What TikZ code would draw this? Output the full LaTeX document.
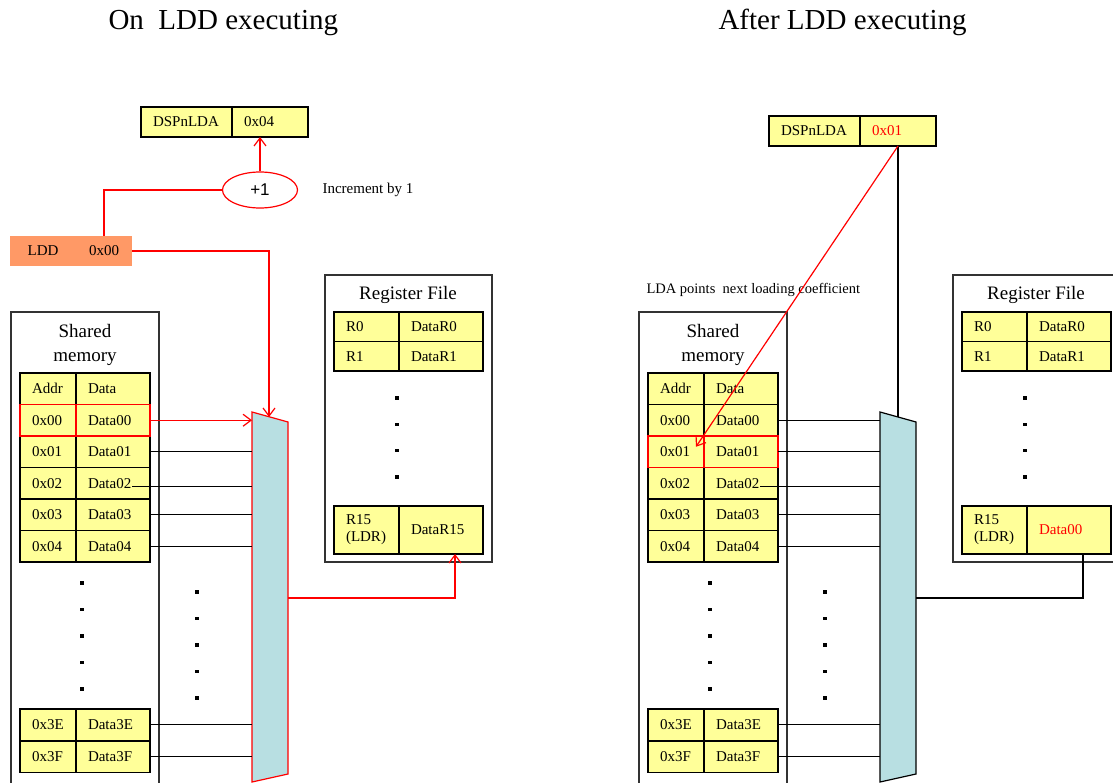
\documentclass[tikz,border=0pt]{standalone}
\usepackage{fontspec}
\setmainfont{Liberation Serif}
\newfontfamily\sansplus{Liberation Sans}
\usetikzlibrary{arrows.meta,shapes.geometric}

\definecolor{celda}{HTML}{FFFF99}
\definecolor{naranja}{HTML}{FF9966}
\definecolor{muxcol}{HTML}{B8DFE2}

\tikzset{
  cell/.style={draw=black,line width=1.8pt,fill=celda,anchor=north west,outer sep=0pt,
    inner xsep=12pt,inner ysep=0pt,align=left,font=\fontsize{15}{17}\selectfont},
  addrcell/.style={cell,minimum width=56pt,text width=32pt,minimum height=31.5pt},
  datacell/.style={cell,minimum width=74pt,text width=50pt,minimum height=31.5pt},
  regcell/.style={cell,minimum width=65pt,text width=41pt,minimum height=#1},
  regdata/.style={cell,minimum width=84pt,text width=60pt,minimum height=#1},
  namecell/.style={cell,minimum width=91pt,text width=67pt,minimum height=30pt},
  valcell/.style={cell,minimum width=76pt,text width=52pt,minimum height=30pt},
  lddcell/.style={fill=naranja,anchor=north west,outer sep=0pt,minimum height=30pt,
    font=\fontsize{15}{17}\selectfont},
  outerbox/.style={draw=black!80,line width=1.2pt,anchor=north west,outer sep=0pt},
  boxlabel/.style={font=\fontsize{19}{24}\selectfont,align=center},
  note/.style={anchor=base west,font=\fontsize{15}{17}\selectfont},
  wire/.style={line width=1.2pt},
  arrowhd/.style={-{Straight Barb[length=8pt,width=12pt]}},
  mux/.style={fill=muxcol,line width=1.2pt},
}

\begin{document}
\begin{tikzpicture}[x=1pt,y=-1pt]
  \path[use as bounding box,fill=white] (0,0) rectangle (1113,783);
  % titulos
  \node[anchor=base west,font=\fontsize{29}{34}\selectfont] (t-on) at (105,30) {On\ \ LDD executing};
  \node[anchor=base west,font=\fontsize{29}{34}\selectfont] (t-after) at (715,30) {After LDD executing};
  % lo que se repite en los dos paneles
  \foreach \p/\dx/\mc/\hl in {a/0/red/0,b/628/black/1}{
    % memoria compartida
    \node[outerbox,minimum width=148pt,minimum height=480pt] (\p-mem) at (11+\dx,312) {};
    \node[boxlabel] (\p-memlbl) at (85+\dx,345) {Shared\\memory};
    \node[addrcell] (\p-ah) at (20+\dx,373) {Addr};
    \node[datacell] (\p-dh) at (\p-ah.north east) {Data};
    \foreach \i/\v/\y in {0/00/404.5,1/01/436,2/02/467.5,3/03/499,4/04/530.5,E/3E/709,F/3F/741}{
      \node[addrcell] (\p-a\i) at (20+\dx,\y) {0x\v};
      \node[datacell] (\p-d\i) at (\p-a\i.north east) {Data\v};
    }
    \draw[red,line width=1.8pt] (\p-a\hl.north west) rectangle (\p-a\hl.south east)
      (\p-d\hl.north west) rectangle (\p-d\hl.south east);
    \foreach \k in {0,...,4}{
      \fill (82+\dx,583+26.5*\k) +(-1.6,-1.6) rectangle +(1.6,1.6);
      \fill (197+\dx,592+26.5*\k) +(-1.6,-1.6) rectangle +(1.6,1.6);
    }
    % multiplexor
    \coordinate (\p-mtl) at (252+\dx,412);
    \coordinate (\p-mtr) at (288+\dx,422);
    \coordinate (\p-mbr) at (288+\dx,774);
    \coordinate (\p-mbl) at (252+\dx,782);
    \coordinate (\p-mtop) at (269+\dx,417);
    \coordinate (\p-mout) at (288+\dx,598);
    \draw[mux,draw=\mc] (\p-mtl) -- (\p-mtr) -- (\p-mbr) -- (\p-mbl) -- cycle;
    \foreach \i in {1,3,4,E,F} \draw[wire] (\p-d\i.east) -- (\p-d\i.east -| \p-mtl);
    \coordinate (\p-q2) at ([xshift=56pt,yshift=-3pt]\p-d2.west);
    \draw[wire] (\p-q2) -- (\p-q2 -| \p-mtl);
    % banco de registros
    \node[outerbox,minimum width=167pt,minimum height=287pt] (\p-rf) at (325+\dx,275) {};
    \node[boxlabel,anchor=base] (\p-rflbl) at (408+\dx,300) {Register File};
    \node[regcell=29.5pt] (\p-r0) at (334+\dx,312) {R0};
    \node[regdata=29.5pt] (\p-v0) at (\p-r0.north east) {DataR0};
    \node[regcell=29.5pt] (\p-r1) at (334+\dx,341.5) {R1};
    \node[regdata=29.5pt] (\p-v1) at (\p-r1.north east) {DataR1};
    \node[regcell=48pt] (\p-r15) at (334+\dx,506) {R15\\(LDR)};
    \foreach \k in {0,...,3} \fill (397+\dx,398+26.3*\k) +(-1.6,-1.6) rectangle +(1.6,1.6);
  }
  % panel izquierdo: durante LDD
  \node[namecell] (a-ln) at (141,107) {DSPnLDA};
  \node[valcell] (a-lv) at (a-ln.north east) {0x04};
  \node[lddcell,minimum width=66pt] (a-lddn) at (10,236) {LDD};
  \node[lddcell,minimum width=56pt] (a-lddv) at (a-lddn.north east) {0x00};
  \node[ellipse,draw=red,line width=1.2pt,fill=white,minimum width=75pt,minimum height=36pt,
    inner sep=0pt,font=\sansplus\fontsize{17}{20}\selectfont] (inc) at (260,190) {+1};
  \node[note] (incnote) at (319,194) {Increment by 1};
  \node[regdata=48pt] (a-v15) at (a-r15.north east) {DataR15};
  \draw[wire,red,arrowhd] (inc.north) -- (inc.north |- a-lv.south);
  \draw[wire,red] (inc.west) -| (a-lddv.north);
  \draw[wire,red,arrowhd] (a-lddv.east) -| (a-mtop);
  \draw[wire,red,arrowhd] (a-d0.east) -- (a-d0.east -| a-mtl);
  \draw[wire,red,arrowhd] (a-mout) -| ([xshift=14pt]a-v15.south);
  % panel derecho: despues de LDD
  \node[namecell] (b-ln) at (769,116) {DSPnLDA};
  \node[valcell,text=red] (b-lv) at (b-ln.north east) {0x01};
  \node[regdata=48pt,text=red] (b-v15) at (b-r15.north east) {Data00};
  \node[note,font=\fontsize{14.5}{17}\selectfont] (ldanote) at (643,294) {LDA points\ \ next loading coefficient};
  \draw[wire] (b-d0.east) -- (b-d0.east -| b-mtl);
  \draw[wire] (b-lv.south) -- (b-lv.south |- b-mtop);
  \draw[wire] ([xshift=14pt]b-v15.south) |- (b-mout);
  \draw[wire,red,arrowhd] (b-lv.south) -- ([xshift=-8pt,yshift=5pt]b-a1.east);
\end{tikzpicture}
\end{document}
